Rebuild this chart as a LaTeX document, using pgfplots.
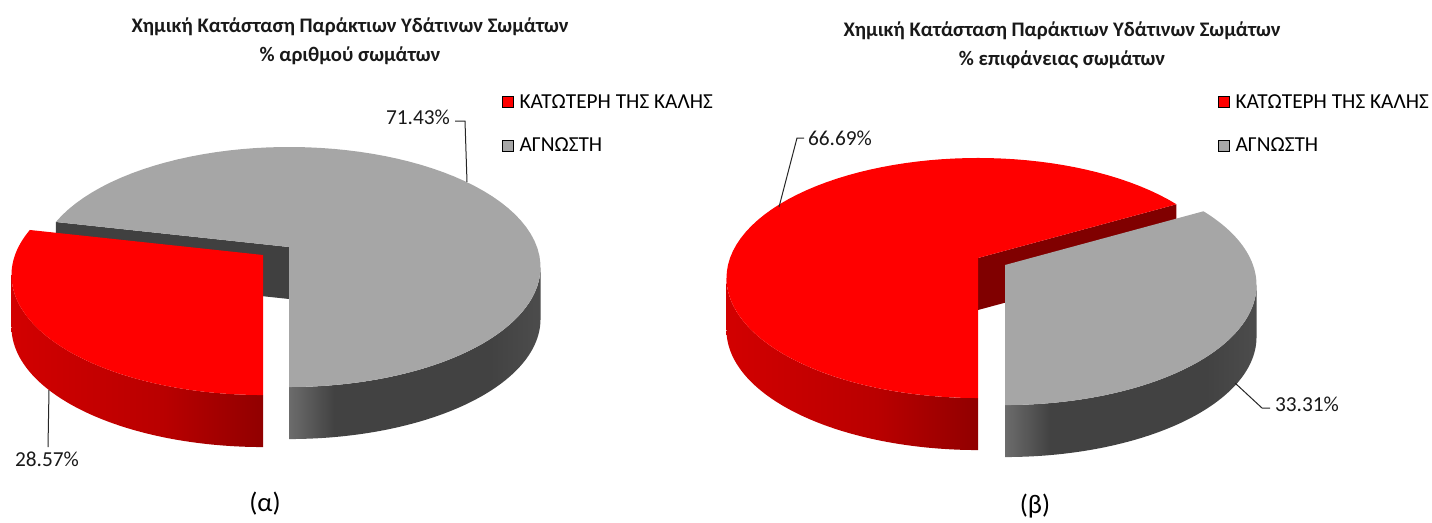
\documentclass[border=0pt]{standalone}
\usepackage{fontspec}
\setmainfont{Carlito}
\usepackage{pgfplots}
\pgfplotsset{compat=1.18}
\usetikzlibrary{shadings}

\definecolor{pieRed}{RGB}{255,0,0}
\definecolor{pieGray}{RGB}{166,166,166}
\definecolor{redWallA}{RGB}{210,0,0}
\definecolor{redWallM}{RGB}{185,0,0}
\definecolor{redWallB}{RGB}{145,0,0}
\definecolor{redCut}{RGB}{128,0,0}
\definecolor{grayCut}{RGB}{64,64,64}
\definecolor{grayWallA}{RGB}{108,108,108}
\definecolor{grayWallB}{RGB}{66,66,66}
\definecolor{grayWallC}{RGB}{76,76,76}

\pgfdeclarehorizontalshading{graywall}{100bp}{color(0bp)=(grayWallA); color(25bp)=(grayWallA); color(34bp)=(grayWallB); color(65bp)=(grayWallB); color(75bp)=(grayWallC); color(100bp)=(grayWallC)}
\pgfdeclarehorizontalshading{redwall}{100bp}{color(0bp)=(redWallA); color(25bp)=(redWallA); color(55bp)=(redWallM); color(75bp)=(redWallB); color(100bp)=(redWallB)}

% data (percent)
\def\vLred{28.57}\def\vLgray{71.43}
\def\vRred{66.69}\def\vRgray{33.31}
\pgfmathsetmacro\eL{180+3.6*\vLred}
\pgfmathsetmacro\eR{180+3.6*\vRred}

% pie geometry (pixels)
\def\PR{248}\def\PA{116.7}\def\PK{0.1667}\def\PH{52}\def\NS{72}
\pgfmathsetmacro\sil{acos(-\PK)}
\pgfmathsetmacro\silB{360-\sil}
\pgfmathsetmacro\silA{360+\sil}

\newcommand\rimx[2]{#1+\PR*sin(#2)/(1+\PK*cos(#2))}
\newcommand\rimy[2]{#1-\PA*cos(#2)/(1+\PK*cos(#2))}

\newcommand\topface[5]{%
  \fill[#5] (axis cs:#1,#2) \foreach \i in {0,...,\NS}{ -- (axis cs:{\rimx{#1}{#3+(#4-#3)*\i/\NS}},{\rimy{#2}{#3+(#4-#3)*\i/\NS}})} -- cycle;}
\newcommand\outerwall[5]{%
  \path[#5] (axis cs:{\rimx{#1}{#3}},{\rimy{#2}{#3}}) \foreach \i in {1,...,\NS}{ -- (axis cs:{\rimx{#1}{#3+(#4-#3)*\i/\NS}},{\rimy{#2}{#3+(#4-#3)*\i/\NS}})} \foreach \i in {\NS,...,0}{ -- (axis cs:{\rimx{#1}{#3+(#4-#3)*\i/\NS}},{\rimy{#2}{#3+(#4-#3)*\i/\NS}+\PH})} -- cycle;}
\newcommand\cutwall[4]{%
  \fill[#4] (axis cs:#1,#2) -- (axis cs:{\rimx{#1}{#3}},{\rimy{#2}{#3}}) -- (axis cs:{\rimx{#1}{#3}},{\rimy{#2}{#3}+\PH}) -- (axis cs:#1,{#2+\PH}) -- cycle;}

\tikzset{
  lead/.style={draw=black!85, line width=0.75pt},
  lbl/.style={font=\fontsize{16}{18}\selectfont, text=black!90},
  ttl/.style={font=\bfseries\fontsize{15.5}{21.5}\selectfont, align=center, text=black!90},
  sub/.style={font=\fontsize{20}{24}\selectfont, text=black},
}
\pgfplotsset{
  halfpie/.style={
    width=537pt, height=390pt, scale only axis,
    xmin=0, xmax=716, ymin=0, ymax=520, y dir=reverse,
    hide axis, clip=false,
    legend image code/.code={\fill[##1] (0pt,-4.1pt) rectangle (8.2pt,4.1pt); \path (12.6pt,0pt);},
    legend cell align=left,
    legend style={draw=none, fill=none, at={(0.7011,0.8192)}, anchor=north west,
      font=\fontsize{16}{19}\selectfont, row sep=21pt, inner sep=0pt,
      nodes={inner sep=0pt}},
  },
}

\begin{document}
\begin{tikzpicture}
% ---------------- (a) ----------------
\begin{axis}[halfpie]
\addlegendimage{fill=pieRed}
\addlegendentry{ΚΑΤΩΤΕΡΗ ΤΗΣ ΚΑΛΗΣ}
\addlegendimage{fill=pieGray}
\addlegendentry{ΑΓΝΩΣΤΗ}
\pgfplotsextra{
  \path (axis cs:0,0) rectangle (axis cs:716,520);
  % gray slice (back)
  \outerwall{289}{247}{\silA}{540}{shade, shading=graywall}
  \cutwall{289}{247}{\eL}{grayCut}
  \topface{289}{247}{\eL}{540}{pieGray}
  % red slice (front)
  \outerwall{263}{255}{180}{\silB}{shade, shading=redwall}
  \topface{263}{255}{180}{\eL}{pieRed}
  % labels
  \draw[lead] (axis cs:467,182) -- (axis cs:465,121) -- (axis cs:455,121);
  \node[lbl] at (axis cs:418,117) {71.43\%};
  \draw[lead] (axis cs:49,390) -- (axis cs:48,447);
  \node[lbl] at (axis cs:47,459) {28.57\%};
  \node[ttl] at (axis cs:350,41) {Χημική Κατάσταση Παράκτιων Υδάτινων Σωμάτων\\\% αριθμού σωμάτων};
  \node[sub] at (axis cs:265,504) {(α)};
}
\end{axis}
% ---------------- (b) ----------------
\begin{axis}[halfpie, at={(537pt,0pt)}]
\addlegendimage{fill=pieRed}
\addlegendentry{ΚΑΤΩΤΕΡΗ ΤΗΣ ΚΑΛΗΣ}
\addlegendimage{fill=pieGray}
\addlegendentry{ΑΓΝΩΣΤΗ}
\pgfplotsextra{
  \path (axis cs:0,0) rectangle (axis cs:716,520);
  % red slice (back)
  \outerwall{262}{258}{180}{\silB}{shade, shading=redwall}
  \cutwall{262}{258}{\eR}{redCut}
  \topface{262}{258}{180}{\eR}{pieRed}
  % gray slice (front)
  \outerwall{289}{265}{\silA}{540}{shade, shading=graywall}
  \topface{289}{265}{\eR}{540}{pieGray}
  % labels
  \draw[lead] (axis cs:63,207) -- (axis cs:81,138) -- (axis cs:88,138);
  \node[lbl] at (axis cs:124,138) {66.69\%};
  \draw[lead] (axis cs:519,383) -- (axis cs:546,408) -- (axis cs:554,408);
  \node[lbl] at (axis cs:591,404) {33.31\%};
  \node[ttl] at (axis cs:346,45) {Χημική Κατάσταση Παράκτιων Υδάτινων Σωμάτων\\\% επιφάνειας σωμάτων};
  \node[sub] at (axis cs:319,506) {(β)};
}
\end{axis}
\end{tikzpicture}
\end{document}
